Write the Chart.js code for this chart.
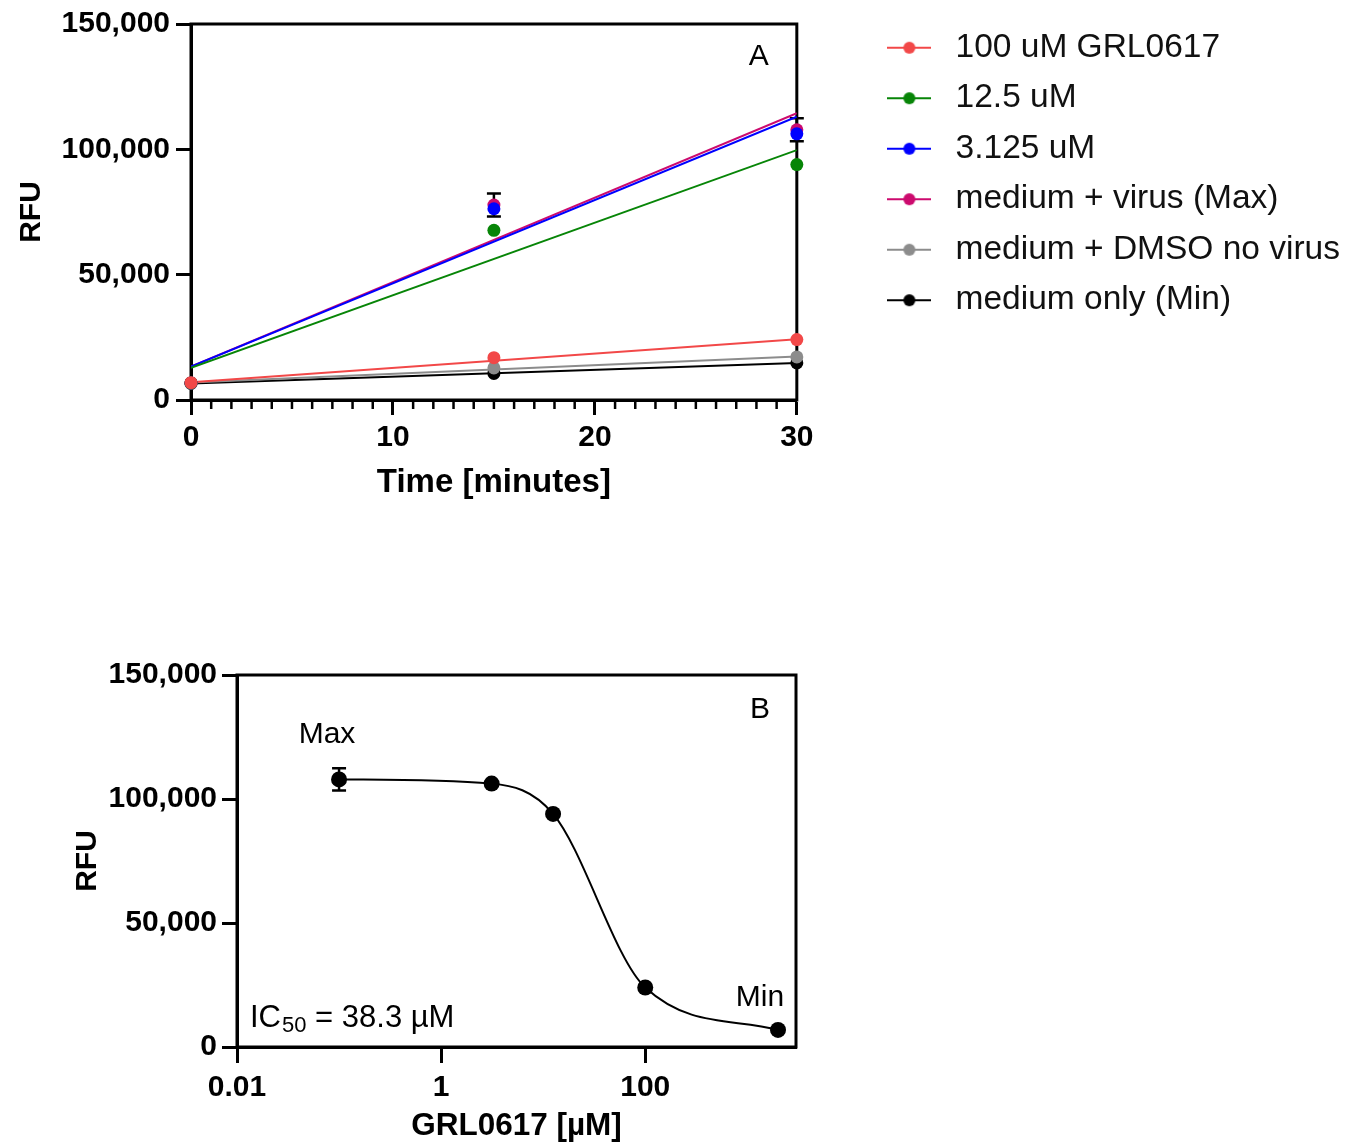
<!DOCTYPE html>
<html lang="en">
<head>
<meta charset="UTF-8" />
<title>GRL0617 inhibition</title>
<script src="https://cdn.jsdelivr.net/npm/chart.js"></script>
<style>
  html, body { margin: 0; padding: 0; background: #fff; }
  body { width: 1358px; height: 1143px; position: relative; overflow: hidden; }
  #chartA { position: absolute; left: 0; top: 0; }
  #chartB { position: absolute; left: 0; top: 640px; }
</style>
</head>
<body>
<canvas id="chartA" width="1358" height="520"></canvas>
<canvas id="chartB" width="860" height="503"></canvas>
<script>
// ---- panel A: RFU over time ----
const times = [0, 15, 30];
const seriesNames = ['100 uM GRL0617', '12.5 uM', '3.125 uM', 'medium + virus (Max)', 'medium + DMSO no virus', 'medium only (Min)'];
const seriesColors = ['#f24848', '#078507', '#0000ff', '#cc0a6e', '#8c8c8c', '#000000'];
const grl100 = [6900, 16900, 24100];
const grl12_5 = [6800, 67700, 93900];
const grl3_125 = [6800, 76300, 106200];
const maxVirus = [6800, 77800, 107800];
const dmsoNoVirus = [6700, 12800, 17200];
const mediumOnly = [6600, 10600, 14800];
const maxVirusErr = [0, 4600, 4600];
// linear fits as drawn (value at 0 and at 30 min)
const fitAt0 = [7100, 12800, 13300, 13300, 7000, 6600];
const fitAt30 = [24200, 99700, 113000, 114400, 17400, 14800];
const xTicksA = [0, 10, 20, 30];
const yTicks = [0, 50000, 100000, 150000];

// ---- panel B: dose response ----
const concB = [0.1, 3.125, 12.5, 100, 2000];
const rfuB = [107900, 106200, 94000, 24000, 6900];
const rfuBErr = [4500, 0, 0, 0, 0];
const xTicksB = [0.01, 1, 100];

const FONT = '"Liberation Sans", Arial, Helvetica, sans-serif';
Chart.defaults.font.family = FONT;
Chart.defaults.color = '#000';

const seriesValues = [grl100, grl12_5, grl3_125, maxVirus, dmsoNoVirus, mediumOnly];
const seriesErr = [null, null, null, maxVirusErr, null, null];

function marker(color) {
  const c = document.createElement('canvas');
  c.width = 44; c.height = 14;
  const g = c.getContext('2d');
  g.strokeStyle = color; g.lineWidth = 2;
  g.beginPath(); g.moveTo(0, 7); g.lineTo(44, 7); g.stroke();
  g.fillStyle = color;
  g.beginPath(); g.arc(22, 7, 6, 0, Math.PI * 2); g.fill();
  return c;
}
const markers = seriesColors.map(marker);

const tickFont = { family: FONT, size: 30, weight: 'bold' };

const frame = {
  id: 'frame',
  beforeDatasetsDraw(chart, args, opts) {
    const { ctx, chartArea: a } = chart;
    ctx.save();
    ctx.strokeStyle = '#000';
    ctx.lineWidth = 3;
    ctx.strokeRect(a.left, a.top, a.right - a.left, a.bottom - a.top);
    if (opts.minor) {
      const xs = chart.scales.x;
      ctx.lineWidth = 2.5;
      for (let v = xs.min; v <= xs.max; v++) {
        if (v % 10 === 0) continue;
        const px = xs.getPixelForValue(v);
        ctx.beginPath(); ctx.moveTo(px, a.bottom); ctx.lineTo(px, a.bottom + 9); ctx.stroke();
      }
    }
    ctx.restore();
  }
};

const errorBars = {
  id: 'errorBars',
  beforeDatasetsDraw(chart) {
    const { ctx } = chart;
    const xs = chart.scales.x, ys = chart.scales.y;
    ctx.save();
    ctx.strokeStyle = '#000';
    ctx.lineWidth = 2.5;
    chart.data.datasets.forEach(ds => {
      if (!ds.errorBars) return;
      ds.data.forEach((p, i) => {
        const e = ds.errorBars[i];
        if (!e) return;
        const px = xs.getPixelForValue(p.x);
        const top = ys.getPixelForValue(p.y + e);
        const bot = ys.getPixelForValue(p.y - e);
        ctx.beginPath();
        ctx.moveTo(px, top); ctx.lineTo(px, bot);
        ctx.moveTo(px - 7, top); ctx.lineTo(px + 7, top);
        ctx.moveTo(px - 7, bot); ctx.lineTo(px + 7, bot);
        ctx.stroke();
      });
    });
    ctx.restore();
  }
};

const panelText = {
  id: 'panelText',
  afterDatasetsDraw(chart, args, opts) {
    const { ctx, chartArea: a } = chart;
    ctx.save();
    ctx.fillStyle = '#000';
    ctx.textBaseline = 'middle';
    ctx.textAlign = 'center';
    ctx.font = '30px ' + FONT;
    (opts.labels || []).forEach(l => {
      const x = l.fromRight ? a.right - l.dx : a.left + l.dx;
      const y = l.fromBottom ? a.bottom - l.dy : a.top + l.dy;
      ctx.fillText(l.text, x, y);
    });
    if (opts.ic50) {
      ctx.textAlign = 'left';
      ctx.textBaseline = 'alphabetic';
      let x = a.left + 13;
      const y = a.bottom - 20;
      ctx.font = '31px ' + FONT;
      ctx.fillText('IC', x, y);
      x += ctx.measureText('IC').width + 1;
      ctx.font = '22px ' + FONT;
      ctx.fillText('50', x, y + 5);
      x += ctx.measureText('50').width;
      ctx.font = '31px ' + FONT;
      ctx.fillText(' = ' + opts.ic50, x, y);
    }
    ctx.restore();
  }
};

function axisStyle(tickLength, pad) {
  return {
    ticks: { padding: pad, color: '#000', font: tickFont },
    grid: { drawOnChartArea: false, drawTicks: true, tickLength: tickLength, tickWidth: 3, tickColor: '#000' },
    border: { display: true, color: '#000', width: 3 }
  };
}

// ---- chart A ----
const pointSets = seriesNames.map((name, i) => ({
  label: name,
  data: times.map((t, j) => ({ x: t, y: seriesValues[i][j] })),
  showLine: false,
  pointRadius: 6.5,
  pointHoverRadius: 6.5,
  pointBorderWidth: 0,
  pointBackgroundColor: seriesColors[i],
  borderColor: seriesColors[i],
  backgroundColor: seriesColors[i],
  errorBars: seriesErr[i],
  clip: false,
  order: 0,
  xAxisID: 'x', yAxisID: 'y'
}));
const fitSets = seriesNames.map((name, i) => ({
  label: name + ' fit',
  data: [{ x: times[0], y: fitAt0[i] }, { x: times[times.length - 1], y: fitAt30[i] }],
  borderColor: seriesColors[i],
  borderWidth: 2,
  pointRadius: 0,
  order: 1,
  xAxisID: 'x', yAxisID: 'y'
}));

const sA = axisStyle(15, 6);
new Chart(document.getElementById('chartA'), {
  type: 'line',
  data: { datasets: [...pointSets, ...fitSets] },
  options: {
    responsive: false,
    animation: false,
    events: [],
    layout: { padding: { top: 14, right: 8, bottom: 0, left: 0 } },
    plugins: {
      legend: {
        position: 'right',
        align: 'start',
        maxWidth: 700,
        labels: {
          usePointStyle: true,
          pointStyleWidth: 59,
          padding: 17,
          color: '#111',
          font: { family: FONT, size: 33.5 },
          filter: item => item.datasetIndex < seriesNames.length,
          generateLabels: chart => Chart.defaults.plugins.legend.labels.generateLabels(chart)
            .map(item => Object.assign(item, { pointStyle: markers[item.datasetIndex] || item.pointStyle }))
        }
      },
      tooltip: { enabled: false },
      frame: { minor: true },
      panelText: { labels: [{ text: 'A', dx: 38, dy: 33, fromRight: true }] }
    },
    scales: {
      x: {
        type: 'linear', min: 0, max: 30,
        afterBuildTicks: s => { s.ticks = xTicksA.map(v => ({ value: v })); },
        ticks: Object.assign({}, sA.ticks, { padding: 5 }),
        grid: sA.grid,
        border: sA.border,
        title: { display: true, text: 'Time [minutes]', color: '#000', font: { family: FONT, size: 33, weight: 'bold' }, padding: { top: 0, bottom: 17 } },
        afterFit: s => { s.height = 120; }
      },
      y: {
        type: 'linear', min: 0, max: 150000,
        afterBuildTicks: s => { s.ticks = yTicks.map(v => ({ value: v })); },
        ticks: Object.assign({}, sA.ticks, { callback: v => v.toLocaleString('en-US') }),
        grid: sA.grid,
        border: sA.border,
        title: { display: true, text: 'RFU', color: '#000', font: { family: FONT, size: 30, weight: 'bold' }, padding: { top: 14, bottom: 0 } },
        afterFit: s => { s.width = 191; }
      },
      xTop: {
        type: 'linear', position: 'top',
        ticks: { display: false }, grid: { display: false, drawTicks: false }, border: { display: false },
        afterFit: s => { s.height = 8; }
      },
      yRight: {
        type: 'linear', position: 'right',
        ticks: { display: false }, grid: { display: false, drawTicks: false }, border: { display: false },
        afterFit: s => { s.width = 66; }
      }
    }
  },
  plugins: [frame, errorBars, panelText]
});

// ---- chart B ----
const sB = axisStyle(15, 5);
new Chart(document.getElementById('chartB'), {
  type: 'line',
  data: {
    datasets: [{
      label: 'GRL0617',
      data: concB.map((c, i) => ({ x: c, y: rfuB[i] })),
      borderColor: '#000',
      borderWidth: 2,
      cubicInterpolationMode: 'monotone',
      pointRadius: 8,
      pointHoverRadius: 8,
      pointBorderWidth: 0,
      pointBackgroundColor: '#000',
      errorBars: rfuBErr,
      clip: false
    }]
  },
  options: {
    responsive: false,
    animation: false,
    events: [],
    layout: { padding: { top: 35, right: 64, bottom: 0, left: 0 } },
    plugins: {
      legend: { display: false },
      tooltip: { enabled: false },
      frame: { minor: false },
      panelText: {
        labels: [
          { text: 'B', dx: 36, dy: 35, fromRight: true },
          { text: 'Max', dx: 90, dy: 60 },
          { text: 'Min', dx: 36, dy: 49, fromRight: true, fromBottom: true }
        ],
        ic50: '38.3 \u00b5M'
      }
    },
    scales: {
      x: {
        type: 'logarithmic', min: 0.01, max: 3000,
        afterBuildTicks: s => { s.ticks = xTicksB.map(v => ({ value: v })); },
        ticks: Object.assign({}, sB.ticks, { padding: 7, callback: v => String(v) }),
        grid: Object.assign({}, sB.grid, { tickLength: 16 }),
        border: sB.border,
        title: { display: true, text: 'GRL0617 [\u00b5M]', color: '#000', font: { family: FONT, size: 31.5, weight: 'bold', lineHeight: 1 }, padding: { top: 0, bottom: 1 } },
        afterFit: s => { s.height = 96; }
      },
      y: {
        type: 'linear', min: 0, max: 150000,
        afterBuildTicks: s => { s.ticks = yTicks.map(v => ({ value: v })); },
        ticks: Object.assign({}, sB.ticks, { callback: v => v.toLocaleString('en-US') }),
        grid: sB.grid,
        border: sB.border,
        title: { display: true, text: 'RFU', color: '#000', font: { family: FONT, size: 30, weight: 'bold' }, padding: { top: 70, bottom: 0 } },
        afterFit: s => { s.width = 237; }
      }
    }
  },
  plugins: [frame, errorBars, panelText]
});
</script>
</body>
</html>
